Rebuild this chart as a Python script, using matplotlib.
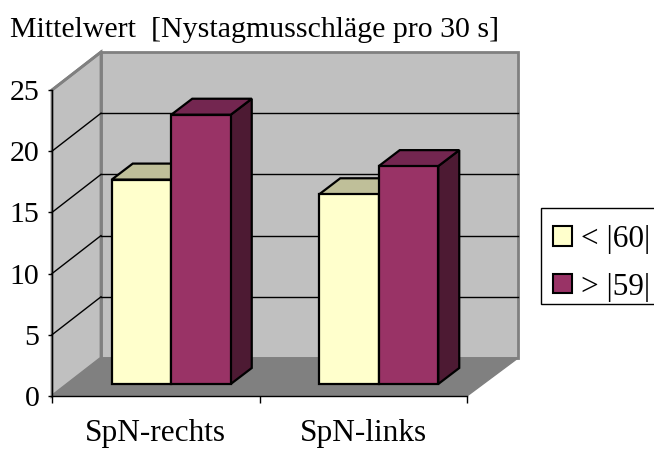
import matplotlib
matplotlib.use("Agg")
import matplotlib.pyplot as plt
from matplotlib.patches import Polygon, Patch, Rectangle

# Data
categories = ["SpN-rechts", "SpN-links"]
values_lo = [16.7, 15.5]
values_hi = [22.0, 17.8]
legend_labels = ["< |60|", "> |59|"]
y_ticks = [0, 5, 10, 15, 20, 25]

W, H = 654, 449
plt.rcParams["font.family"] = ["Liberation Serif", "DejaVu Serif"]
fig = plt.figure(figsize=(W / 100, H / 100), dpi=100)
# front plane of the fake 3D box: x 52..467 px, y 396..90 px
ax = fig.add_axes([52 / W, 1 - 396 / H, 415 / W, 306 / H])
ax.set_xlim(0, 2)
ax.set_ylim(0, 25)

# pixel sizes turned into data units
px_x = 2 / 415
px_y = 25 / 306
DX = 49 * px_x  # box depth
DY = 38 * px_y
RX = 2 + DX + 2 * px_x  # right edge of the back wall
BW = 59.5 * px_x  # bar width
BDX = 21 * px_x  # bar depth
BDY = 16 * px_y
OFFX = 15.5 * px_x  # bar base offset into the box
OFFY = 12 * px_y


def poly(pts, fc, ec="black", lw=1.6, z=2):
    ax.add_patch(Polygon(pts, closed=True, facecolor=fc, edgecolor=ec, linewidth=lw,
                         clip_on=False, zorder=z, joinstyle="miter"))


# walls and floor
poly([(DX, DY), (RX, DY), (RX, 25 + DY), (DX, 25 + DY)], "#c0c0c0", "#808080", 2, 1)
poly([(0, 0), (DX, DY), (DX, 25 + DY), (0, 25)], "#c0c0c0", "#808080", 2, 1)
poly([(0, 0), (2, 0), (RX, DY), (DX, DY)], "#808080", "#808080", 1, 1.1)

# gridlines
for t in y_ticks[1:-1] + [25]:
    if t < 25:
        ax.plot([DX, RX], [t + DY, t + DY], color="black", lw=1, clip_on=False, zorder=1.5)
    ax.plot([0, DX], [t, t + DY], color="black" if t < 25 else "#808080",
            lw=1 if t < 25 else 2, clip_on=False, zorder=1.5)


def bar3d(x0, v, front, top, side):
    y0 = OFFY
    y1 = OFFY + v
    x1 = x0 + BW
    poly([(x1, y0), (x1 + BDX, y0 + BDY), (x1 + BDX, y1 + BDY), (x1, y1)], side)
    poly([(x0, y1), (x1, y1), (x1 + BDX, y1 + BDY), (x0 + BDX, y1 + BDY)], top)
    poly([(x0, y0), (x1, y0), (x1, y1), (x0, y1)], front)


for i in range(len(categories)):
    center = i + 0.5 + OFFX
    bar3d(center - BW, values_lo[i], "#ffffcc", "#bfbf99", "#80805f")
    bar3d(center, values_hi[i], "#993366", "#732650", "#4d1a33")

# axes
for s in ["top", "right"]:
    ax.spines[s].set_visible(False)
for s in ["left", "bottom"]:
    ax.spines[s].set_linewidth(1)
    ax.spines[s].set_zorder(3)
ax.patch.set_visible(False)
ax.set_yticks(y_ticks)
ax.tick_params(axis="y", length=3, width=1, labelsize=21.5, pad=6)
ax.set_xticks([0, 1, 2])
ax.set_xticklabels([])
ax.tick_params(axis="x", which="major", length=5, width=1)
ax.set_xticks([0.5, 1.5], minor=True)
ax.set_xticklabels(categories, minor=True)
ax.tick_params(axis="x", which="minor", length=0, labelsize=22.5, pad=16.5)

fig.text(10 / W, 1 - 37 / H, "Mittelwert  [Nystagmusschläge pro 30 s]", fontsize=21.5,
         ha="left", va="baseline")

# legend box is drawn by hand, it runs off the right edge like in the original
fig.add_artist(Rectangle((541 / W, 1 - 304 / H), 130 / W, 96 / H, transform=fig.transFigure,
                         facecolor="white", edgecolor="black", linewidth=1))
handles = [Patch(facecolor="#ffffcc", edgecolor="black", lw=1.5, label=legend_labels[0]),
           Patch(facecolor="#993366", edgecolor="black", lw=1.5, label=legend_labels[1])]
fig.legend(handles=handles, loc="upper left", bbox_to_anchor=(542 / W, 1 - 213.5 / H),
           fontsize=22.5, frameon=False,
           handlelength=0.6, handleheight=0.6, handletextpad=0.3, labelspacing=0.6,
           borderpad=0.36, borderaxespad=0)

fig.savefig("out.png", dpi=100)
